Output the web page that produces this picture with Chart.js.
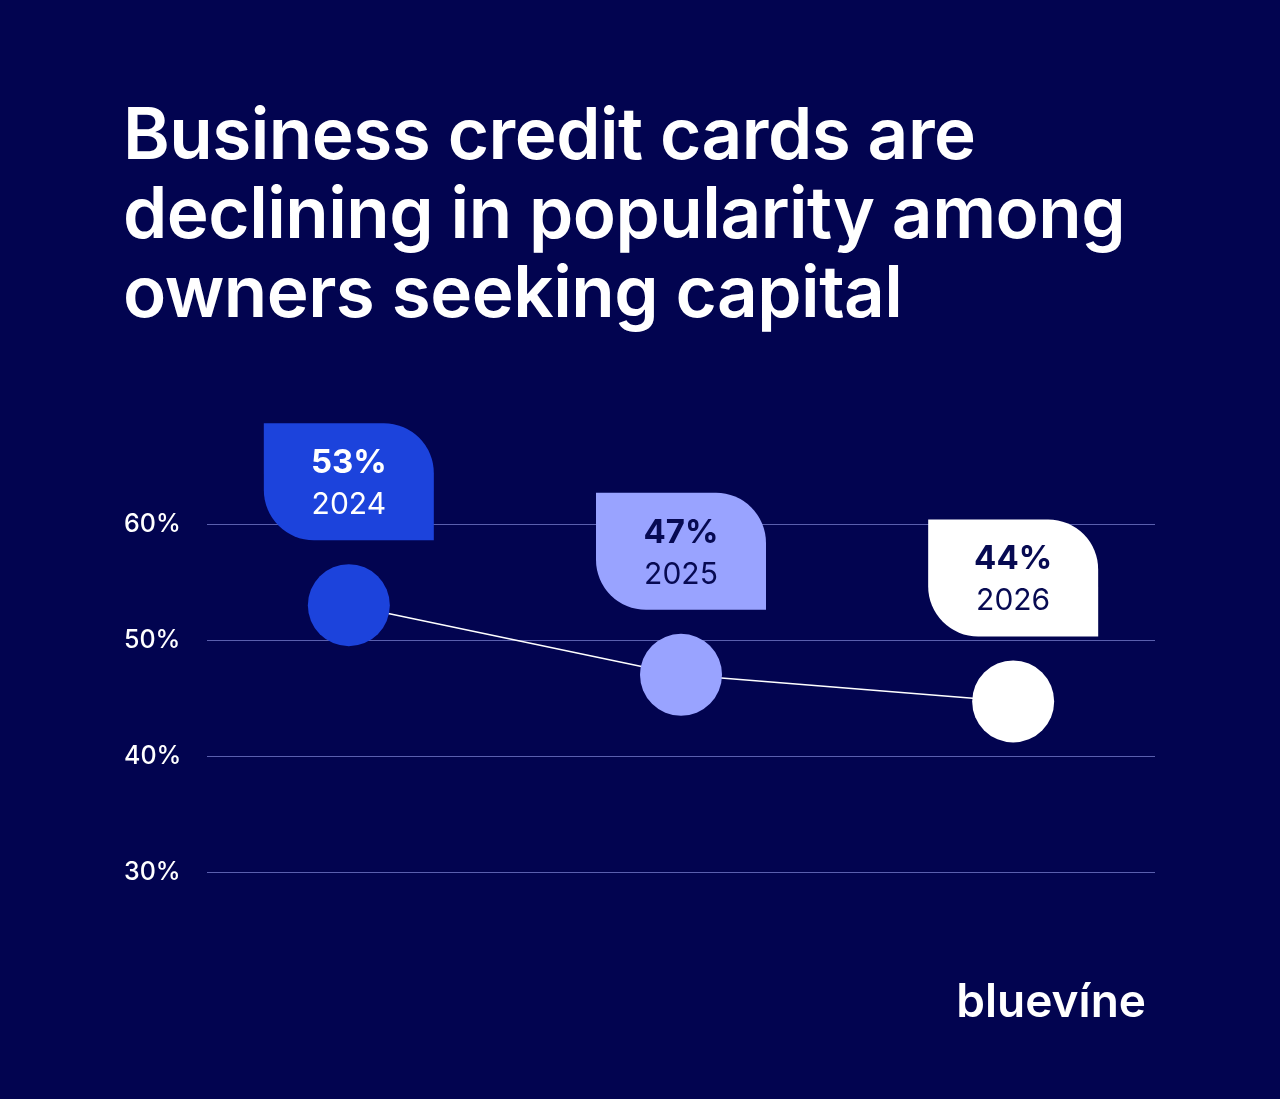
<!DOCTYPE html>
<html>
<head>
<meta charset="utf-8">
<script src="https://cdn.jsdelivr.net/npm/chart.js@4.4.1/dist/chart.umd.min.js"></script>
<style>
  html, body { margin: 0; padding: 0; background: #020450; }
  #wrap { position: relative; width: 1280px; height: 1099px; overflow: hidden; }
  #title {
    position: absolute; left: 123px; top: 94px; margin: 0;
    font-family: Inter, "Noto Sans", sans-serif; font-weight: 600;
    font-size: 71px; line-height: 79px; color: #fff; letter-spacing: -0.5px;
  }
  #logo {
    position: absolute; right: 134px; top: 972px;
    font-family: Inter, sans-serif; font-weight: 600; font-size: 46px;
    color: #fff; letter-spacing: 0px;
  }
</style>
</head>
<body>
<div id="wrap">
  <canvas id="chart" width="1280" height="1099"></canvas>
  <h1 id="title">Business credit cards are<br>declining in popularity among<br>owners seeking capital</h1>
  <div id="logo">bluevíne</div>
</div>
<script>
var years = [2024, 2025, 2026];
var values = [53, 47, 44.7];
var valueLabels = ['53%', '47%', '44%'];
var yTicks = [30, 40, 50, 60];

var pointColors = ['#1c43dc', '#99a3ff', '#ffffff'];
var boxTextColors = ['#ffffff', '#070a52', '#070a52'];

// leaf shaped label boxes above each point
var leafLabels = {
  id: 'leafLabels',
  afterDatasetsDraw: function(chart) {
    var ctx = chart.ctx;
    var meta = chart.getDatasetMeta(0);
    var w = 170, h = 117, r = 50, gap = 65;
    meta.data.forEach(function(pt, i) {
      var x = pt.x - w / 2, y = pt.y - gap - h;
      ctx.save();
      ctx.fillStyle = pointColors[i];
      ctx.beginPath();
      ctx.moveTo(x, y);
      ctx.lineTo(x + w - r, y);
      ctx.arcTo(x + w, y, x + w, y + r, r);
      ctx.lineTo(x + w, y + h);
      ctx.lineTo(x + r, y + h);
      ctx.arcTo(x, y + h, x, y + h - r, r);
      ctx.closePath();
      ctx.fill();
      ctx.fillStyle = boxTextColors[i];
      ctx.textAlign = 'center';
      ctx.textBaseline = 'alphabetic';
      ctx.font = '700 33px Inter, sans-serif';
      ctx.fillText(valueLabels[i], pt.x, y + 50);
      ctx.font = '400 30px Inter, sans-serif';
      ctx.fillText(String(years[i]), pt.x, y + 91);
      ctx.restore();
    });
  }
};

new Chart(document.getElementById('chart'), {
  type: 'line',
  data: {
    datasets: [{
      data: years.map(function(y, i) { return {x: y, y: values[i]}; }),
      borderColor: '#ffffff',
      borderWidth: 1.5,
      pointRadius: 41,
      pointHoverRadius: 41,
      pointBorderWidth: 0,
      pointBackgroundColor: pointColors,
      clip: false
    }]
  },
  options: {
    responsive: false,
    animation: false,
    events: [],
    layout: { padding: { left: 124, right: 125, top: 524, bottom: 227 } },
    plugins: { legend: { display: false }, tooltip: { enabled: false } },
    scales: {
      x: {
        type: 'linear',
        display: false,
        min: years[0] - 0.427,
        max: years[years.length - 1] + 0.427
      },
      y: {
        min: yTicks[0],
        max: yTicks[yTicks.length - 1],
        afterFit: function(scale) { scale.width = 83; },
        afterBuildTicks: function(scale) {
          scale.ticks = yTicks.map(function(v) { return {value: v}; });
        },
        border: { display: false },
        grid: { color: '#5a5fae', lineWidth: 1, drawTicks: false },
        ticks: {
          crossAlign: 'far',
          padding: 0,
          color: '#ffffff',
          font: { family: 'Inter, sans-serif', size: 25, weight: '500' },
          callback: function(v) { return v + '%'; }
        }
      }
    }
  },
  plugins: [leafLabels]
});
</script>
</body>
</html>
